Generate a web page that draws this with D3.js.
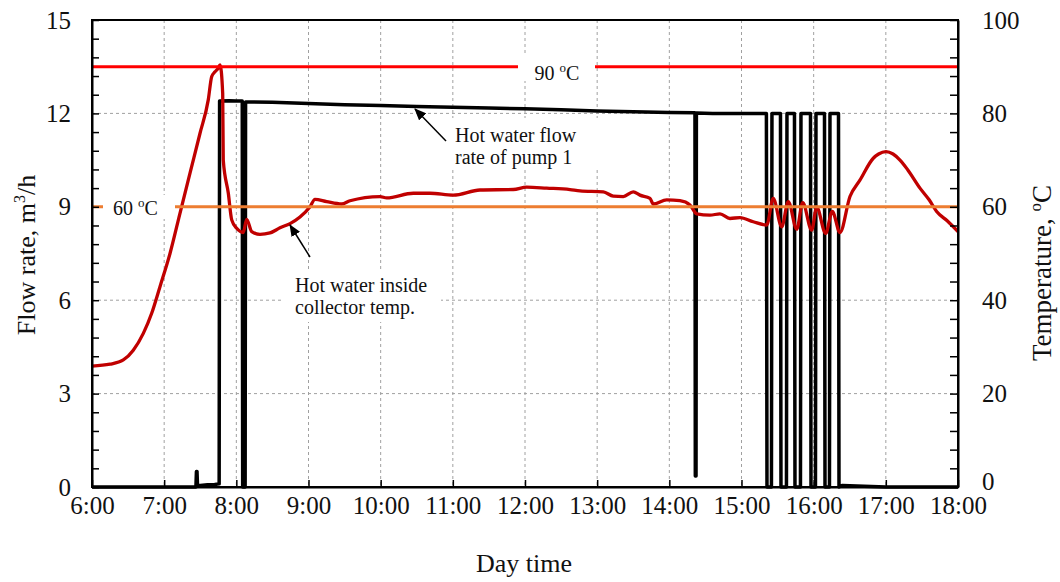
<!DOCTYPE html>
<html>
<head>
<meta charset="utf-8">
<script src="https://cdn.jsdelivr.net/npm/d3@7"></script>
<style>
  html, body { margin: 0; padding: 0; background: #fff; }
  svg { display: block; }
  text { font-family: "Liberation Serif", "Times New Roman", serif; fill: #111; }
</style>
</head>
<body>
<svg id="chart" width="1060" height="582"></svg>
<script>
// ---------------- DATA ----------------
const xTickValues = [6, 7, 8, 9, 10, 11, 12, 13, 14, 15, 16, 17, 18];
const xTickLabels = ["6:00", "7:00", "8:00", "9:00", "10:00", "11:00", "12:00", "13:00", "14:00", "15:00", "16:00", "17:00", "18:00"];
const leftTickLabels = [0, 3, 6, 9, 12, 15];
const rightTickLabels = [0, 20, 40, 60, 80, 100];

// Hot water flow rate of pump 1 (m3/h) vs time (decimal hours)
const flowTime = [6.0, 7.44, 7.447, 7.455, 7.462, 7.5, 7.6, 7.7, 7.762, 7.768, 7.9, 8.0, 8.082, 8.088, 8.122, 8.128,
  8.5, 9.0, 9.5, 10.0, 10.5, 11.0, 11.5, 12.0, 12.5, 13.0, 13.5, 14.0, 14.355, 14.36, 14.37, 14.375, 14.6, 15.0,
  15.345, 15.353, 15.415, 15.422, 15.54, 15.547, 15.623, 15.630, 15.734, 15.741, 15.817, 15.824, 15.956, 15.963,
  16.025, 16.032, 16.150, 16.157, 16.219, 16.226, 16.344, 16.351, 16.4, 17.0, 18.0];
const flowRate = [0, 0, 0.5, 0.5, 0.05, 0.05, 0.07, 0.08, 0.1, 12.4, 12.41, 12.4, 12.4, 0, 0, 12.37,
  12.36, 12.32, 12.28, 12.25, 12.22, 12.2, 12.17, 12.15, 12.12, 12.08, 12.05, 12.03, 12.02, 0.35, 0.35, 12.01, 12.0, 12.0,
  12.0, 0, 0, 12.0, 12.0, 0, 0, 12.0, 12.0, 0, 0, 12.0, 12.0, 0,
  0, 12.0, 12.0, 0, 0, 12.0, 12.0, 0, 0.05, 0, 0];

// Hot water inside collector temperature (oC) vs time (decimal hours)
const tempTime = [6.0, 6.25, 6.434, 6.572, 6.711, 6.827, 6.942, 7.081, 7.219, 7.358, 7.496, 7.611, 7.659, 7.704, 7.75, 7.774,
  7.811, 7.819, 7.889, 7.936, 8.005, 8.096, 8.143, 8.213, 8.328, 8.466, 8.605, 8.744, 8.882, 9.021, 9.09, 9.252, 9.46,
  9.575, 9.991, 10.084, 10.452, 10.683, 11.006, 11.376, 11.838, 12.023, 12.3, 12.623, 12.762, 13.085, 13.223, 13.362,
  13.5, 13.593, 13.732, 13.777, 13.963, 14.147, 14.286, 14.379, 14.563, 14.702, 14.84, 14.979, 15.163, 15.349, 15.44,
  15.557, 15.648, 15.765, 15.848, 15.972, 16.042, 16.166, 16.258, 16.364, 16.503, 16.641, 16.826, 16.9, 17.002, 17.1,
  17.196, 17.3, 17.473, 17.6, 17.704, 17.85, 18.0];
const tempValue = [25.9, 26.3, 27.2, 29.3, 32.9, 37.2, 42.9, 50.0, 58.6, 67.2, 75.7, 82.9, 87.9, 88.9, 89.7, 90.4,
  84.3, 70.0, 62.9, 57.2, 55.4, 54.5, 57.3, 54.7, 54.1, 54.4, 55.5, 56.4, 57.8, 60.0, 61.6, 61.1, 60.6,
  61.3, 62.2, 61.9, 62.9, 62.9, 62.5, 63.6, 63.7, 64.2, 64.0, 63.7, 63.4, 63.2, 62.3, 62.2,
  63.2, 62.5, 61.8, 60.6, 61.5, 61.3, 60.4, 58.5, 58.2, 58.5, 57.5, 57.7, 56.8, 56.1, 61.8,
  55.7, 61.1, 55.2, 60.9, 55.0, 59.9, 54.3, 59.0, 54.5, 62.2, 65.7, 70.4, 71.3, 71.8, 71.3,
  70.0, 68.0, 64.0, 61.5, 59.0, 57.0, 54.7];

const refTemps = [90, 60];

// ---------------- CHART ----------------
const svg = d3.select("#chart");
const L = 92, R = 958, T = 20, B = 487;

const x = d3.scaleLinear().domain([6, 18]).range([L, R]);
const yL = d3.scaleLinear().domain([0, 15]).range([B, T]);
const yR = d3.scaleLinear().domain([0, 100]).range([B, T]);

// grid
const grid = svg.append("g").attr("stroke", "#a0a0a0").attr("stroke-width", 1).attr("stroke-dasharray", "3,3");
[3, 6, 9, 12].forEach(v => grid.append("line").attr("x1", L).attr("x2", R).attr("y1", yL(v)).attr("y2", yL(v)));
d3.range(7, 18).forEach(v => grid.append("line").attr("x1", x(v)).attr("x2", x(v)).attr("y1", T).attr("y2", B));

// arrow marker
const defs = svg.append("defs");
defs.append("marker").attr("id", "arr").attr("markerUnits", "userSpaceOnUse")
  .attr("viewBox", "0 0 12 10").attr("refX", 11).attr("refY", 5)
  .attr("markerWidth", 12).attr("markerHeight", 10).attr("orient", "auto")
  .append("path").attr("d", "M0,0 L12,5 L0,10 Z").attr("fill", "#000");

// flow line
const flowData = flowTime.map((t, i) => [t, flowRate[i]]);
svg.append("path").datum(flowData)
  .attr("d", d3.line().x(d => x(d[0])).y(d => yL(d[1])))
  .attr("fill", "none").attr("stroke", "#000").attr("stroke-width", 3.5)
  .attr("stroke-linejoin", "round");

// temperature line
const tempData = tempTime.map((t, i) => [t, tempValue[i]]);
svg.append("path").datum(tempData)
  .attr("d", d3.line().x(d => x(d[0])).y(d => yR(d[1])).curve(d3.curveMonotoneX))
  .attr("fill", "none").attr("stroke", "#c00000").attr("stroke-width", 3.3)
  .attr("stroke-linejoin", "round");

// reference lines
svg.append("line").attr("x1", L).attr("x2", R).attr("y1", yR(refTemps[1])).attr("y2", yR(refTemps[1]))
  .attr("stroke", "#ed7d31").attr("stroke-width", 3);
svg.append("line").attr("x1", L).attr("x2", R).attr("y1", yR(refTemps[0])).attr("y2", yR(refTemps[0]))
  .attr("stroke", "#ff0000").attr("stroke-width", 3);

// label boxes (white)
const boxes = [[518, 55, 77, 26], [103, 195, 72, 24], [449, 118, 152, 50], [281, 270, 160, 52]];
boxes.forEach(b => svg.append("rect").attr("x", b[0]).attr("y", b[1]).attr("width", b[2]).attr("height", b[3]).attr("fill", "#fff"));

// reference labels
function degLabel(xp, yp, num, anchor) {
  const t = svg.append("text").attr("x", xp).attr("y", yp).attr("font-size", 20).attr("text-anchor", anchor);
  t.append("tspan").text(num + " ");
  t.append("tspan").attr("font-size", 13).attr("dy", -8).text("o");
  t.append("tspan").attr("dy", 8).text("C");
}
degLabel(557, 80, refTemps[0], "middle");
degLabel(113, 215, refTemps[1], "start");

// annotation texts
const ann = svg.append("g").attr("font-size", 20);
ann.append("text").attr("x", 455).attr("y", 142).text("Hot water flow");
ann.append("text").attr("x", 455).attr("y", 164).text("rate of pump 1");
ann.append("text").attr("x", 295).attr("y", 292).text("Hot water inside");
ann.append("text").attr("x", 295).attr("y", 314).text("collector temp.");

svg.append("line").attr("x1", 446).attr("y1", 141).attr("x2", 415).attr("y2", 109)
  .attr("stroke", "#000").attr("stroke-width", 1.5).attr("marker-end", "url(#arr)");
svg.append("line").attr("x1", 310).attr("y1", 257).attr("x2", 290).attr("y2", 225)
  .attr("stroke", "#000").attr("stroke-width", 1.5).attr("marker-end", "url(#arr)");

// axes
const fs = 25;
const leftAxis = d3.axisLeft(yL).tickValues(d3.range(0, 15.01, 0.6).map(v => +v.toFixed(1)))
  .tickSizeInner(-7).tickSizeOuter(0).tickPadding(21)
  .tickFormat(d => leftTickLabels.includes(d) ? d : "");
const gl = svg.append("g").attr("transform", `translate(${L},0)`).call(leftAxis);

const rightAxis = d3.axisRight(yR).tickValues(d3.range(0, 101, 4))
  .tickSizeInner(-8).tickSizeOuter(0).tickPadding(24)
  .tickFormat(d => rightTickLabels.includes(d) ? d : "");
const gr = svg.append("g").attr("transform", `translate(${R},0)`).call(rightAxis);

const bottomAxis = d3.axisBottom(x).tickValues(xTickValues)
  .tickSizeInner(-7).tickSizeOuter(0).tickPadding(9)
  .tickFormat((d, i) => xTickLabels[i]);
const gb = svg.append("g").attr("transform", `translate(0,${B})`).call(bottomAxis);

[gl, gr, gb].forEach(g => {
  g.selectAll("text").attr("font-size", fs).attr("font-family", "Liberation Serif, Times New Roman, serif").attr("fill", "#111");
  g.selectAll("line").attr("stroke", "#000").attr("stroke-width", 1.5);
  g.select(".domain").attr("stroke", "#000").attr("stroke-width", 2);
});
// keep the right-hand "0" clear of the "18:00" label
gr.selectAll(".tick text").filter(d => d === 0).attr("dy", "0.1em");

// frame
svg.append("rect").attr("x", L).attr("y", T).attr("width", R - L).attr("height", B - T)
  .attr("fill", "none").attr("stroke", "#000").attr("stroke-width", 2);

// axis titles
const lt = svg.append("text").attr("transform", "translate(35,255) rotate(-90)")
  .attr("text-anchor", "middle").attr("font-size", 26);
lt.append("tspan").text("Flow rate, m");
lt.append("tspan").attr("font-size", 16).attr("dy", -10).text("3");
lt.append("tspan").attr("dy", 10).text("/h");

const rt = svg.append("text").attr("transform", "translate(1051,273) rotate(-90)")
  .attr("text-anchor", "middle").attr("font-size", 27);
rt.append("tspan").text("Temperature, ");
rt.append("tspan").attr("font-size", 17).attr("dy", -10).text("o");
rt.append("tspan").attr("dy", 10).text("C");

svg.append("text").attr("x", 524).attr("y", 572).attr("text-anchor", "middle").attr("font-size", 26).text("Day time");
</script>
</body>
</html>
